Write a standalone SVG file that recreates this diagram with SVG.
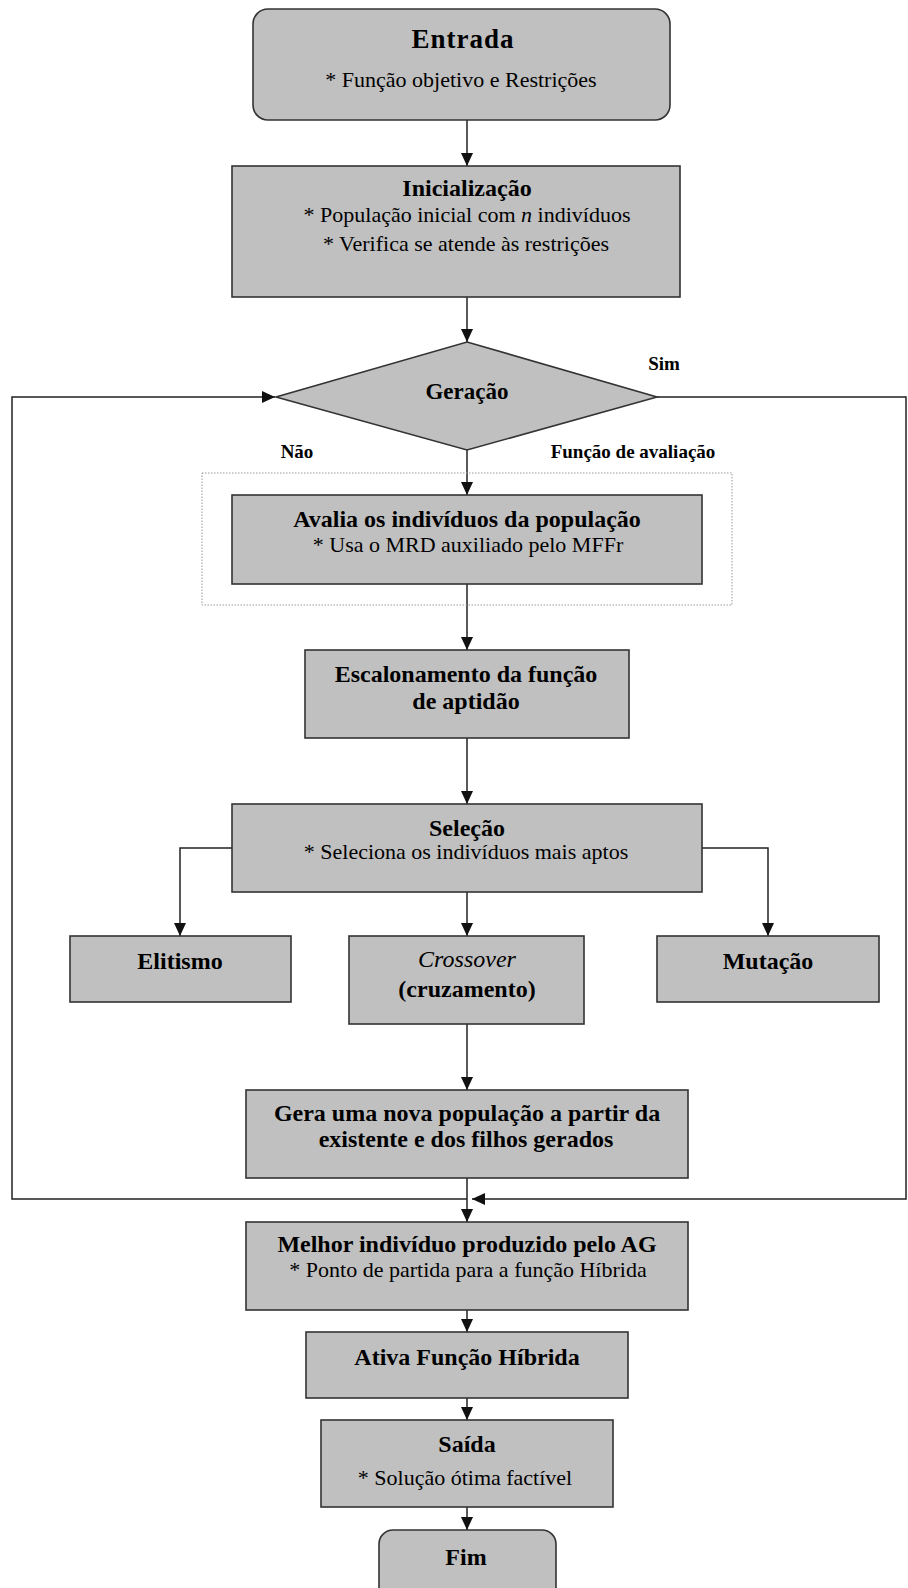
<svg xmlns="http://www.w3.org/2000/svg" width="908" height="1588" viewBox="0 0 908 1588">
<style>
.box{fill:#c0c0c0;stroke:#333;stroke-width:1.6}
.ln{fill:none;stroke:#222;stroke-width:1.5}
.t{font-family:"Liberation Serif","Times New Roman",serif;fill:#000;text-anchor:middle}
.b{font-weight:bold;font-size:24px}
.r{font-size:22px}
.lb{font-weight:bold;font-size:19px}
</style>
<defs>
<marker id="ah" viewBox="0 0 13 12" refX="13" refY="6" markerWidth="13" markerHeight="12" markerUnits="userSpaceOnUse" orient="auto">
<path d="M0,0 L13,6 L0,12 z" fill="#111"/>
</marker>
</defs>
<rect width="908" height="1588" fill="#fff"/>
<g id="connectors">
<line class="ln" x1="467" y1="120" x2="467" y2="166" marker-end="url(#ah)"/>
<line class="ln" x1="467" y1="297" x2="467" y2="342" marker-end="url(#ah)"/>
<line class="ln" x1="467" y1="450" x2="467" y2="495" marker-end="url(#ah)"/>
<line class="ln" x1="467" y1="584" x2="467" y2="650" marker-end="url(#ah)"/>
<line class="ln" x1="467" y1="738" x2="467" y2="804" marker-end="url(#ah)"/>
<line class="ln" x1="467" y1="892" x2="467" y2="936" marker-end="url(#ah)"/>
<path class="ln" d="M232,848 H180 V936" marker-end="url(#ah)"/>
<path class="ln" d="M702,848 H768 V936" marker-end="url(#ah)"/>
<line class="ln" x1="467" y1="1024" x2="467" y2="1090" marker-end="url(#ah)"/>
<line class="ln" x1="467" y1="1178" x2="467" y2="1222" marker-end="url(#ah)"/>
<path class="ln" d="M467,1199 H12 V397 H275" marker-end="url(#ah)"/>
<path class="ln" d="M657,397 H906 V1199 H472" marker-end="url(#ah)"/>
<line class="ln" x1="467" y1="1310" x2="467" y2="1332" marker-end="url(#ah)"/>
<line class="ln" x1="467" y1="1398" x2="467" y2="1420" marker-end="url(#ah)"/>
<line class="ln" x1="467" y1="1507" x2="467" y2="1530" marker-end="url(#ah)"/>
<text class="t lb" x="664" y="370">Sim</text>
<text class="t lb" x="297" y="458">Não</text>
<text class="t lb" x="633" y="458">Função de avaliação</text>
</g>
<g id="entrada">
<rect class="box" x="253" y="9" width="417" height="111" rx="15"/>
<text class="t" x="463" y="48" font-size="27" font-weight="bold" letter-spacing="1">Entrada</text>
<text class="t r" x="461" y="87">* Função objetivo e Restrições</text>
</g>
<g id="inicializacao">
<rect class="box" x="232" y="166" width="448" height="131"/>
<text class="t b" x="467" y="196">Inicialização</text>
<text class="t r" x="467" y="222">* População inicial com <tspan font-style="italic">n</tspan> indivíduos</text>
<text class="t r" x="466" y="251">* Verifica se atende às restrições</text>
</g>
<g id="geracao">
<polygon class="box" points="467,342 657,397 467,450 276,397"/>
<text class="t" x="467" y="399" font-size="23" font-weight="bold">Geração</text>
</g>
<g id="funcao-avaliacao">
<rect x="202" y="473" width="530" height="132" fill="none" stroke="#999" stroke-width="1" stroke-dasharray="1.5 1.5"/>
</g>
<g id="avalia">
<rect class="box" x="232" y="495" width="470" height="89"/>
<text class="t b" x="467" y="527">Avalia os indivíduos da população</text>
<text class="t r" x="468" y="552">* Usa o MRD auxiliado pelo MFFr</text>
</g>
<g id="escalonamento">
<rect class="box" x="305" y="650" width="324" height="88"/>
<text class="t b" x="466" y="682">Escalonamento da função</text>
<text class="t b" x="466" y="709">de aptidão</text>
</g>
<g id="selecao">
<rect class="box" x="232" y="804" width="470" height="88"/>
<text class="t b" x="467" y="836">Seleção</text>
<text class="t r" x="466" y="859">* Seleciona os indivíduos mais aptos</text>
</g>
<g id="elitismo">
<rect class="box" x="70" y="936" width="221" height="66"/>
<text class="t b" x="180" y="969">Elitismo</text>
</g>
<g id="crossover">
<rect class="box" x="349" y="936" width="235" height="88"/>
<text class="t" x="467" y="967" font-size="24" font-style="italic">Crossover</text>
<text class="t b" x="467" y="997">(cruzamento)</text>
</g>
<g id="mutacao">
<rect class="box" x="657" y="936" width="222" height="66"/>
<text class="t b" x="768" y="969">Mutação</text>
</g>
<g id="gera">
<rect class="box" x="246" y="1090" width="442" height="88"/>
<text class="t b" x="467" y="1121">Gera uma nova população a partir da</text>
<text class="t b" x="466" y="1147">existente e dos filhos gerados</text>
</g>
<g id="melhor">
<rect class="box" x="246" y="1222" width="442" height="88"/>
<text class="t b" x="467" y="1252">Melhor indivíduo produzido pelo AG</text>
<text class="t r" x="468" y="1277">* Ponto de partida para a função Híbrida</text>
</g>
<g id="ativa">
<rect class="box" x="306" y="1332" width="322" height="66"/>
<text class="t b" x="467" y="1365">Ativa Função Híbrida</text>
</g>
<g id="saida">
<rect class="box" x="321" y="1420" width="292" height="87"/>
<text class="t b" x="467" y="1452">Saída</text>
<text class="t r" x="465" y="1485">* Solução ótima factível</text>
</g>
<g id="fim">
<rect class="box" x="379" y="1530" width="177" height="80" rx="14"/>
<text class="t b" x="466" y="1565">Fim</text>
</g>
</svg>
